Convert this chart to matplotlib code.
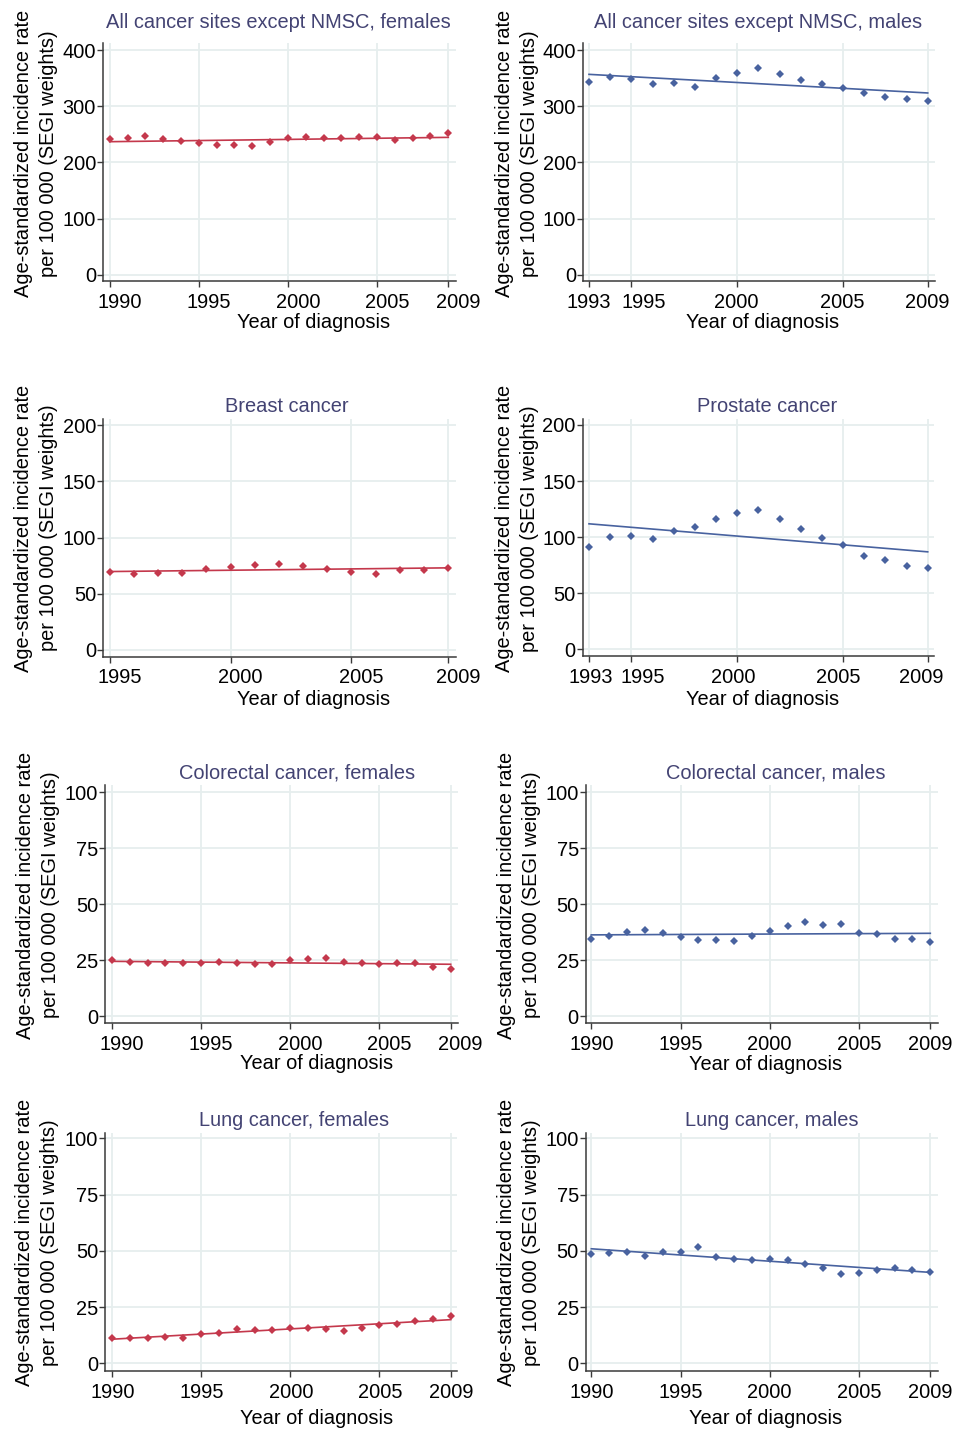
import numpy as np
import matplotlib
matplotlib.use("Agg")
import matplotlib.pyplot as plt
from matplotlib.transforms import ScaledTranslation

plt.rcParams['font.family'] = ['Liberation Sans', 'DejaVu Sans']

# ---------------- data ----------------
years_90 = list(range(1990, 2010))
years_93 = list(range(1993, 2010))
years_95 = list(range(1995, 2010))

all_females = [241.8, 243.0, 247.7, 242.0, 237.6, 234.7, 231.0, 231.7, 228.7, 236.4,
               243.0, 246.0, 244.0, 243.6, 246.0, 245.0, 240.6, 243.6, 246.5, 251.8]
all_females_trend = [237.0, 244.7]

all_males = [343.1, 352.0, 348.4, 339.0, 340.7, 334.2, 350.2, 358.5, 368.6, 357.3,
             346.7, 339.0, 332.4, 324.1, 317.0, 312.9, 309.3]
all_males_trend = [356.7, 323.6]

breast = [68.8, 67.3, 67.9, 68.5, 71.7, 74.1, 75.3, 76.2, 75.0, 71.7,
          69.3, 67.6, 71.1, 70.8, 72.9]
breast_trend = [69.6, 72.9]

prostate = [90.8, 99.7, 101.2, 98.5, 105.7, 109.2, 116.1, 121.4, 123.8, 116.1,
            107.7, 98.8, 92.6, 83.3, 79.8, 74.7, 72.6]
prostate_trend = [111.9, 86.9]

colorectal_females = [25.1, 24.2, 23.8, 23.8, 23.8, 23.8, 24.1, 23.8, 23.5, 23.2,
                      25.0, 25.4, 26.0, 24.1, 23.8, 23.5, 23.9, 23.6, 22.0, 21.1]
colorectal_females_trend = [24.5, 23.2]

colorectal_males = [34.3, 35.8, 37.4, 38.3, 37.0, 35.5, 33.9, 34.0, 33.7, 36.0,
                    38.2, 40.3, 41.9, 40.6, 41.0, 37.0, 36.8, 34.3, 34.3, 33.0]
colorectal_males_trend = [36.3, 37.0]

lung_females = [11.4, 11.4, 11.1, 11.5, 11.4, 12.9, 13.6, 15.2, 14.9, 14.8,
                15.5, 15.7, 15.2, 14.5, 15.5, 17.2, 17.6, 18.6, 19.7, 21.2]
lung_females_trend = [10.7, 19.4]

lung_males = [48.5, 49.0, 49.6, 47.6, 49.6, 49.6, 51.5, 47.2, 46.4, 45.9,
              46.2, 45.7, 44.2, 42.3, 39.9, 40.1, 41.6, 42.5, 41.3, 40.4]
lung_males_trend = [50.9, 40.4]

titles = ["All cancer sites except NMSC, females", "All cancer sites except NMSC, males",
          "Breast cancer", "Prostate cancer",
          "Colorectal cancer, females", "Colorectal cancer, males",
          "Lung cancer, females", "Lung cancer, males"]
xticks_90 = [1990, 1995, 2000, 2005, 2009]
xticks_93 = [1993, 1995, 2000, 2005, 2009]
xticks_95 = [1995, 2000, 2005, 2009]
yticks_400 = [0, 100, 200, 300, 400]
yticks_200 = [0, 50, 100, 150, 200]
yticks_100 = [0, 25, 50, 75, 100]
ylabel_text = "Age-standardized incidence rate\nper 100 000 (SEGI weights)"
xlabel_text = "Year of diagnosis"

RED = '#c4384c'
BLUE = '#48629f'
TITLE_C = '#434373'
GRID_C = '#e6eeee'

W, H = 966, 1430
fig = plt.figure(figsize=(W / 100, H / 100), dpi=100)
fig.patch.set_facecolor('white')

panels = [
    # years, values, trend, xticks, yticks, color, layout (L,R,T,B), xmap, ymap,
    # title pos, xlabel pos, ylabel pos, per-label x shifts (px)
    (years_90, all_females, all_females_trend, xticks_90, yticks_400, RED,
     (103, 456, 43, 281), ((1990, 109.7), (2009, 448.3)), ((0, 275), (400, 50)),
     (278.5, 23), (314, 322.5), (36, 153.5), [10, 10, 10, 10, 10]),
    (years_93, all_males, all_males_trend, xticks_93, yticks_400, BLUE,
     (583, 935, 43, 281), ((1993, 589), (2009, 927.7)), ((0, 275), (400, 50)),
     (758, 23), (763, 322.5), (517, 153.5), [0, 12, -1, -1, 0]),
    (years_95, breast, breast_trend, xticks_95, yticks_200, RED,
     (103, 456, 419, 656.5), ((1995, 109.7), (2009, 448)), ((0, 649.5), (200, 425.5)),
     (287, 406), (314, 699.5), (36, 528), [10, 10, 10, 10]),
    (years_93, prostate, prostate_trend, xticks_93, yticks_200, BLUE,
     (582.7, 934.3, 419.3, 656), ((1993, 589), (2009, 927.7)), ((0, 649.3), (200, 425)),
     (767, 406.5), (763, 699.5), (517, 528.5), [2, 11.5, -4, -4.5, -6]),
    (years_90, colorectal_females, colorectal_females_trend, xticks_90, yticks_100, RED,
     (105, 457.7, 785, 1023), ((1990, 112), (2009, 450.7)), ((0, 1016.3), (100, 792)),
     (297, 773), (317, 1063.5), (38, 895), [10, 10, 10, 10, 10]),
    (years_90, colorectal_males, colorectal_males_trend, xticks_90, yticks_100, BLUE,
     (585.7, 937.7, 785, 1023), ((1990, 591.3), (2009, 930.3)), ((0, 1016.3), (100, 792)),
     (776, 773), (766, 1065), (519, 895), [0, 0, 0, 0, 0]),
    (years_90, lung_females, lung_females_trend, xticks_90, yticks_100, RED,
     (105.3, 457.3, 1132.7, 1371), ((1990, 112), (2009, 450.7)), ((0, 1363.3), (100, 1138.3)),
     (293.7, 1120), (317, 1419), (37, 1242.5), [1, 1, 1, 1, 1]),
    (years_90, lung_males, lung_males_trend, xticks_90, yticks_100, BLUE,
     (585.7, 937.7, 1132.7, 1371), ((1990, 591.3), (2009, 930.3)), ((0, 1363.3), (100, 1138.3)),
     (772, 1120), (766, 1419), (519, 1242.5), [0, 0, 0, 0, 0]),
]

FS = 14.4


def lim_from_map(m, p0, p1):
    (va, pa), (vb, pb) = m
    s = (vb - va) / (pb - pa)
    return va + (p0 - pa) * s, va + (p1 - pa) * s


for i, (yrs, vals, trend, xt, yt, col, (L, R, T, B), xm, ym, tpos, xlpos, ylpos, shifts) in enumerate(panels):
    ax = fig.add_axes([L / W, 1 - B / H, (R - L) / W, (B - T) / H])
    ax.set_xlim(*lim_from_map(xm, L, R))
    ax.set_ylim(*lim_from_map(ym, B, T))
    ax.set_xticks(xt)
    ax.set_yticks(yt)
    ax.set_xticklabels([str(v) for v in xt])
    ax.set_yticklabels([str(v) for v in yt])
    ax.grid(True, color=GRID_C, linewidth=1.3)
    ax.set_axisbelow(True)
    for s in ['top', 'right']:
        ax.spines[s].set_visible(False)
    for s in ['left', 'bottom']:
        ax.spines[s].set_color('#3a3a3a')
        ax.spines[s].set_linewidth(1.1)
    ax.tick_params(axis='both', length=4, width=1.0, color='#3a3a3a', labelsize=FS,
                   labelcolor='black')
    ax.tick_params(axis='x', pad=4.5)
    ax.tick_params(axis='y', pad=1)

    ax.plot([yrs[0], yrs[-1]], trend, color=col, linewidth=1.2, zorder=3)
    ax.plot(yrs, vals, linestyle='none', marker='D', markersize=4.0, color=col,
            markeredgewidth=0, zorder=4)

    for lab, sh in zip(ax.get_xticklabels(), shifts):
        if sh:
            off = ScaledTranslation(sh / 100, 0, fig.dpi_scale_trans)
            lab.set_transform(lab.get_transform() + off)

    fig.text(tpos[0] / W, 1 - tpos[1] / H, titles[i], ha='center', va='center',
             fontsize=FS, color=TITLE_C)
    fig.text(xlpos[0] / W, 1 - xlpos[1] / H, xlabel_text, ha='center', va='center',
             fontsize=FS, color='black')
    fig.text(ylpos[0] / W, 1 - ylpos[1] / H, ylabel_text, ha='center', va='center',
             rotation=90, fontsize=FS, color='black', linespacing=1.42,
             multialignment='center')

fig.savefig('out.png', dpi=100, facecolor='white')
